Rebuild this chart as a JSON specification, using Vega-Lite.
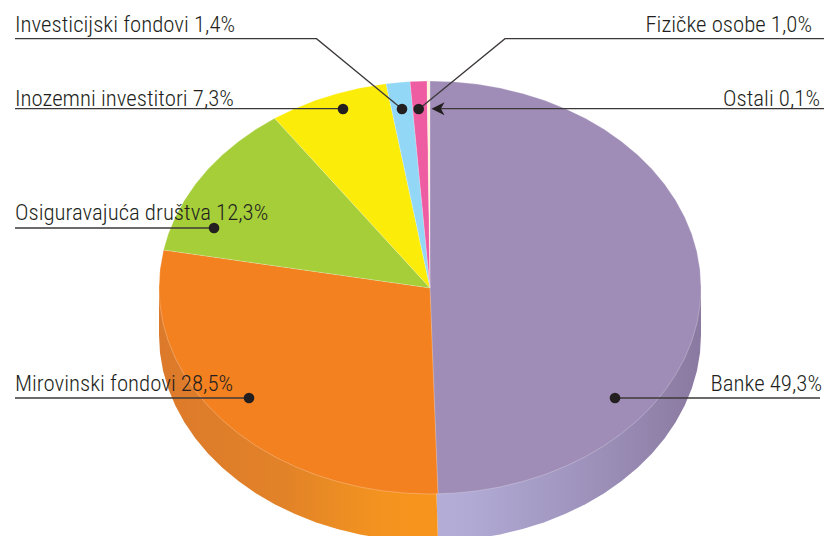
{"$schema":"https://vega.github.io/schema/vega-lite/v6.json","width":824,"height":536,"padding":0,"autosize":{"type":"none"},"background":"white","view":{"stroke":null},
"datasets":{
"side":[
{"s":"b","i":0,"x":430,"y":288},{"s":"b","i":1,"x":701,"y":287.5},{"s":"b","i":2,"x":701,"y":335},{"s":"b","i":3,"x":700,"y":353},{"s":"b","i":4,"x":696.9,"y":370.9},{"s":"b","i":5,"x":691.8,"y":388.4},{"s":"b","i":6,"x":684.7,"y":405.6},{"s":"b","i":7,"x":675.6,"y":422.3},{"s":"b","i":8,"x":664.7,"y":438.3},{"s":"b","i":9,"x":652,"y":453.4},{"s":"b","i":10,"x":637.6,"y":467.7},{"s":"b","i":11,"x":621.6,"y":481},{"s":"b","i":12,"x":604.2,"y":493.2},{"s":"b","i":13,"x":585.4,"y":504.2},{"s":"b","i":14,"x":565.5,"y":513.8},{"s":"b","i":15,"x":544.5,"y":522.2},{"s":"b","i":16,"x":522.7,"y":529},{"s":"b","i":17,"x":500.1,"y":534.5},{"s":"b","i":18,"x":477,"y":538.4},{"s":"b","i":19,"x":453.6,"y":540.7},{"s":"b","i":20,"x":438,"y":541.3},
{"s":"m","i":0,"x":430,"y":288},{"s":"m","i":1,"x":438,"y":541.3},{"s":"m","i":2,"x":430,"y":541.5},{"s":"m","i":3,"x":406.4,"y":540.7},{"s":"m","i":4,"x":383,"y":538.4},{"s":"m","i":5,"x":359.9,"y":534.5},{"s":"m","i":6,"x":337.3,"y":529},{"s":"m","i":7,"x":315.5,"y":522.2},{"s":"m","i":8,"x":294.5,"y":513.8},{"s":"m","i":9,"x":274.6,"y":504.2},{"s":"m","i":10,"x":255.8,"y":493.2},{"s":"m","i":11,"x":238.4,"y":481},{"s":"m","i":12,"x":222.4,"y":467.7},{"s":"m","i":13,"x":208,"y":453.4},{"s":"m","i":14,"x":195.3,"y":438.3},{"s":"m","i":15,"x":184.4,"y":422.3},{"s":"m","i":16,"x":175.3,"y":405.6},{"s":"m","i":17,"x":168.2,"y":388.4},{"s":"m","i":18,"x":163.1,"y":370.9},{"s":"m","i":19,"x":160,"y":353},{"s":"m","i":20,"x":159,"y":335},{"s":"m","i":21,"x":159,"y":287.5}
],
"top":[
{"s":"Banke","i":0,"x":430,"y":288},{"s":"Banke","i":1,"x":430,"y":81},{"s":"Banke","i":2,"x":453.6,"y":81.8},{"s":"Banke","i":3,"x":477,"y":84.1},{"s":"Banke","i":4,"x":500.1,"y":88},{"s":"Banke","i":5,"x":522.7,"y":93.5},{"s":"Banke","i":6,"x":544.5,"y":100.3},{"s":"Banke","i":7,"x":565.5,"y":108.7},{"s":"Banke","i":8,"x":585.4,"y":118.3},{"s":"Banke","i":9,"x":604.2,"y":129.3},{"s":"Banke","i":10,"x":621.6,"y":141.5},{"s":"Banke","i":11,"x":637.6,"y":154.8},{"s":"Banke","i":12,"x":652,"y":169.1},{"s":"Banke","i":13,"x":664.7,"y":184.2},{"s":"Banke","i":14,"x":675.6,"y":200.2},{"s":"Banke","i":15,"x":684.7,"y":216.9},{"s":"Banke","i":16,"x":691.8,"y":234.1},{"s":"Banke","i":17,"x":696.9,"y":251.6},{"s":"Banke","i":18,"x":700,"y":269.5},{"s":"Banke","i":19,"x":701,"y":287.5},{"s":"Banke","i":20,"x":700,"y":305.5},{"s":"Banke","i":21,"x":696.9,"y":323.4},{"s":"Banke","i":22,"x":691.8,"y":340.9},{"s":"Banke","i":23,"x":684.7,"y":358.1},{"s":"Banke","i":24,"x":675.6,"y":374.8},{"s":"Banke","i":25,"x":664.7,"y":390.8},{"s":"Banke","i":26,"x":652,"y":405.9},{"s":"Banke","i":27,"x":637.6,"y":420.2},{"s":"Banke","i":28,"x":621.6,"y":433.5},{"s":"Banke","i":29,"x":604.2,"y":445.7},{"s":"Banke","i":30,"x":585.4,"y":456.7},{"s":"Banke","i":31,"x":565.5,"y":466.3},{"s":"Banke","i":32,"x":544.5,"y":474.7},{"s":"Banke","i":33,"x":522.7,"y":481.5},{"s":"Banke","i":34,"x":500.1,"y":487},{"s":"Banke","i":35,"x":477,"y":490.9},{"s":"Banke","i":36,"x":453.6,"y":493.2},{"s":"Banke","i":37,"x":438,"y":493.8},
{"s":"Mirovinski","i":0,"x":430,"y":288},{"s":"Mirovinski","i":1,"x":438,"y":493.8},{"s":"Mirovinski","i":2,"x":430,"y":494},{"s":"Mirovinski","i":3,"x":406.4,"y":493.2},{"s":"Mirovinski","i":4,"x":383,"y":490.9},{"s":"Mirovinski","i":5,"x":359.9,"y":487},{"s":"Mirovinski","i":6,"x":337.3,"y":481.5},{"s":"Mirovinski","i":7,"x":315.5,"y":474.7},{"s":"Mirovinski","i":8,"x":294.5,"y":466.3},{"s":"Mirovinski","i":9,"x":274.6,"y":456.7},{"s":"Mirovinski","i":10,"x":255.8,"y":445.7},{"s":"Mirovinski","i":11,"x":238.4,"y":433.5},{"s":"Mirovinski","i":12,"x":222.4,"y":420.2},{"s":"Mirovinski","i":13,"x":208,"y":405.9},{"s":"Mirovinski","i":14,"x":195.3,"y":390.8},{"s":"Mirovinski","i":15,"x":184.4,"y":374.8},{"s":"Mirovinski","i":16,"x":175.3,"y":358.1},{"s":"Mirovinski","i":17,"x":168.2,"y":340.9},{"s":"Mirovinski","i":18,"x":163.1,"y":323.4},{"s":"Mirovinski","i":19,"x":160,"y":305.5},{"s":"Mirovinski","i":20,"x":159,"y":287.5},{"s":"Mirovinski","i":21,"x":160,"y":269.5},{"s":"Mirovinski","i":22,"x":163.5,"y":250},
{"s":"Osiguravajuca","i":0,"x":430,"y":288},{"s":"Osiguravajuca","i":1,"x":163.5,"y":250},{"s":"Osiguravajuca","i":2,"x":168.2,"y":234.1},{"s":"Osiguravajuca","i":3,"x":175.3,"y":216.9},{"s":"Osiguravajuca","i":4,"x":184.4,"y":200.2},{"s":"Osiguravajuca","i":5,"x":195.3,"y":184.2},{"s":"Osiguravajuca","i":6,"x":208,"y":169.1},{"s":"Osiguravajuca","i":7,"x":222.4,"y":154.8},{"s":"Osiguravajuca","i":8,"x":238.4,"y":141.5},{"s":"Osiguravajuca","i":9,"x":255.8,"y":129.3},{"s":"Osiguravajuca","i":10,"x":274.6,"y":118.3},
{"s":"Inozemni","i":0,"x":430,"y":288},{"s":"Inozemni","i":1,"x":274.6,"y":118.3},{"s":"Inozemni","i":2,"x":294.5,"y":108.7},{"s":"Inozemni","i":3,"x":315.5,"y":100.3},{"s":"Inozemni","i":4,"x":337.3,"y":93.5},{"s":"Inozemni","i":5,"x":359.9,"y":88},{"s":"Inozemni","i":6,"x":386,"y":83.7},
{"s":"Investicijski","i":0,"x":430,"y":288},{"s":"Investicijski","i":1,"x":386,"y":83.7},{"s":"Investicijski","i":2,"x":398,"y":82.4},{"s":"Investicijski","i":3,"x":410,"y":81.6},
{"s":"Fizicke","i":0,"x":430,"y":288},{"s":"Fizicke","i":1,"x":410,"y":81.6},{"s":"Fizicke","i":2,"x":427,"y":81},
{"s":"Ostali","i":0,"x":430,"y":288},{"s":"Ostali","i":1,"x":427,"y":81},{"s":"Ostali","i":2,"x":430,"y":81}
],
"leaders":[
{"l":"a","i":0,"x":15,"y":38.7},{"l":"a","i":1,"x":316.5,"y":38.7},{"l":"a","i":2,"x":402,"y":109},
{"l":"b","i":0,"x":15,"y":108.7},{"l":"b","i":1,"x":343,"y":108.7},
{"l":"c","i":0,"x":15,"y":228},{"l":"c","i":1,"x":214,"y":228},
{"l":"d","i":0,"x":15,"y":398},{"l":"d","i":1,"x":249,"y":398},
{"l":"e","i":0,"x":615,"y":398},{"l":"e","i":1,"x":820,"y":398},
{"l":"f","i":0,"x":824,"y":38.7},{"l":"f","i":1,"x":505,"y":38.7},{"l":"f","i":2,"x":419,"y":109},
{"l":"g","i":0,"x":824,"y":108.7},{"l":"g","i":1,"x":436,"y":108.7}
],
"dots":[{"x":402,"y":109},{"x":418.7,"y":109},{"x":343,"y":109},{"x":214,"y":228},{"x":249,"y":398},{"x":615,"y":398}],
"labels":[
{"t":"Investicijski fondovi 1,4%","x":15,"y":32,"a":"left"},
{"t":"Inozemni investitori 7,3%","x":15,"y":106,"a":"left"},
{"t":"Osiguravajuća društva 12,3%","x":15,"y":220,"a":"left"},
{"t":"Mirovinski fondovi 28,5%","x":15,"y":390.5,"a":"left"},
{"t":"Fizičke osobe 1,0%","x":812,"y":32,"a":"right"},
{"t":"Ostali 0,1%","x":820,"y":106,"a":"right"},
{"t":"Banke 49,3%","x":822,"y":391,"a":"right"}
]},
"encoding":{
"x":{"field":"x","type":"quantitative","scale":{"domain":[0,824]},"axis":null},
"y":{"field":"y","type":"quantitative","scale":{"domain":[536,0]},"axis":null}
},
"layer":[
{"data":{"name":"side"},"transform":[{"filter":"datum.s==='b'"}],
"mark":{"type":"line","filled":true,"clip":true,"strokeWidth":0,"fill":{"gradient":"linear","x1":0,"y1":0,"x2":1,"y2":0,"stops":[{"offset":0,"color":"#B3ADD7"},{"offset":0.15,"color":"#B0AAD4"},{"offset":0.6,"color":"#9D91BA"},{"offset":1,"color":"#8A79A0"}]}},
"encoding":{"order":{"field":"i"}}},
{"data":{"name":"side"},"transform":[{"filter":"datum.s==='m'"}],
"mark":{"type":"line","filled":true,"clip":true,"strokeWidth":0,"fill":{"gradient":"linear","x1":0,"y1":0,"x2":1,"y2":0,"stops":[{"offset":0,"color":"#DC7A2B"},{"offset":0.45,"color":"#E28228"},{"offset":0.62,"color":"#EA8C24"},{"offset":0.8,"color":"#F4931F"},{"offset":1,"color":"#F7941D"}]}},
"encoding":{"order":{"field":"i"}}},
{"data":{"name":"top"},
"mark":{"type":"line","filled":true,"clip":true,"stroke":"#ffffff","strokeWidth":0.5,"strokeOpacity":0.5},
"encoding":{"order":{"field":"i"},"detail":{"field":"s"},
"fill":{"field":"s","type":"nominal","legend":null,"scale":{"domain":["Banke","Mirovinski","Osiguravajuca","Inozemni","Investicijski","Fizicke","Ostali"],"range":["#9F8DB7","#F48120","#A6CE39","#FBEC0A","#92D8F6","#EE5DA2","#FFF3DC"]}}}},
{"data":{"name":"leaders"},
"mark":{"type":"line","stroke":"#3C3839","strokeWidth":1.3,"interpolate":"linear"},
"encoding":{"order":{"field":"i"},"detail":{"field":"l"}}},
{"data":{"name":"dots"},"mark":{"type":"point","shape":"circle","filled":true,"size":113,"fill":"#231F20","stroke":null,"opacity":1}},
{"data":{"values":[{"x":438,"y":108.7}]},"mark":{"type":"point","shape":"M-1,0L1,-1L0.45,0L1,1Z","filled":true,"size":170,"fill":"#231F20","stroke":null,"opacity":1}},
{"data":{"name":"labels"},"transform":[{"filter":"datum.a==='left'"}],"mark":{"type":"text","align":"left","baseline":"alphabetic","font":"Roboto Condensed, Roboto","fontWeight":300,"fontSize":22.8,"fill":"#231F20"},"encoding":{"text":{"field":"t"}}},
{"data":{"name":"labels"},"transform":[{"filter":"datum.a==='right'"}],"mark":{"type":"text","align":"right","baseline":"alphabetic","font":"Roboto Condensed, Roboto","fontWeight":300,"fontSize":22.8,"fill":"#231F20"},"encoding":{"text":{"field":"t"}}}
]}
